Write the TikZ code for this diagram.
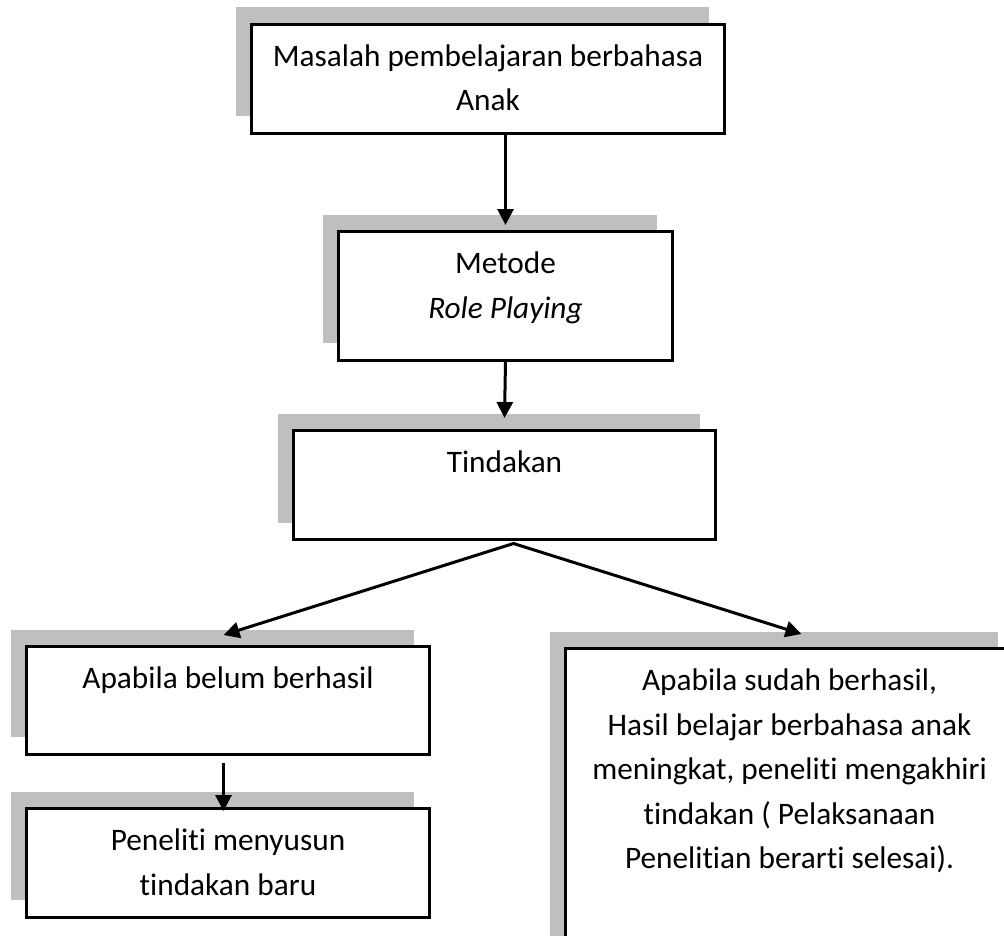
\documentclass[tikz,border=0pt]{standalone}
\usepackage{fontspec}
\setmainfont{Carlito}[Ligatures=NoCommon]
\usetikzlibrary{arrows.meta,shadows}
\definecolor{shadowgray}{HTML}{BFBFBF}
\newcommand{\bxt}[3]{\parbox[t][#2][t]{#1}{\centering\vspace*{11pt}#3}}
\begin{document}
\begin{tikzpicture}[x=1pt,y=-1pt,
  box/.style={draw, line width=3pt, fill=white, inner sep=0pt, anchor=north west,
    font=\fontsize{31.3}{44.5}\selectfont,
    general shadow={fill=shadowgray, shadow xshift=-16pt, shadow yshift=17pt}},
  conn/.style={line width=3pt, -{Triangle[length=16pt,width=16pt]}},
  fork/.style={line width=3pt, {Triangle[length=16pt,width=16pt]}-{Triangle[length=16pt,width=16pt]}}]
\useasboundingbox (0,0) rectangle (1004,935);
\clip (0,0) rectangle (1004,935);
\node[box] (b1) at (250,22.5) {\bxt{473pt}{109pt}{\strut Masalah pembelajaran berbahasa\\\strut Anak}};
\node[box] (b2) at (337,230) {\bxt{334pt}{128.5pt}{\strut Metode\\\strut\textit{Role Playing}}};
\node[box] (b3) at (292,429) {\bxt{422pt}{109pt}{\strut Tindakan}};
\node[box] (b4) at (25,645) {\bxt{403pt}{107.5pt}{\strut Apabila belum berhasil}};
\node[box] (b5) at (25,807) {\bxt{403pt}{108.5pt}{\strut Peneliti menyusun\\\strut tindakan baru}};
\node[box] (b6) at (564,647) {\bxt{448pt}{310pt}{\strut Apabila sudah berhasil,\\\strut Hasil belajar berbahasa anak\\\strut meningkat, peneliti mengakhiri\\\strut tindakan ( Pelaksanaan\\\strut Penelitian berarti selesai).}};
\coordinate (apex) at ([xshift=9pt,yshift=-2.5pt]b3.south);
\draw[conn] (b2.north |- b1.south) -- ([yshift=5pt]b2.north);
\draw[conn] (b2.south) -- ([yshift=11pt]b3.north);
\draw[fork] ([xshift=-4.5pt,yshift=10pt]b4.north) -- (apex) -- ([xshift=12pt,yshift=13pt]b6.north);
\draw[conn] ([xshift=-4.5pt,yshift=-7.5pt]b4.south) -- ([xshift=-4.5pt,yshift=-4pt]b5.north);
\end{tikzpicture}
\end{document}
